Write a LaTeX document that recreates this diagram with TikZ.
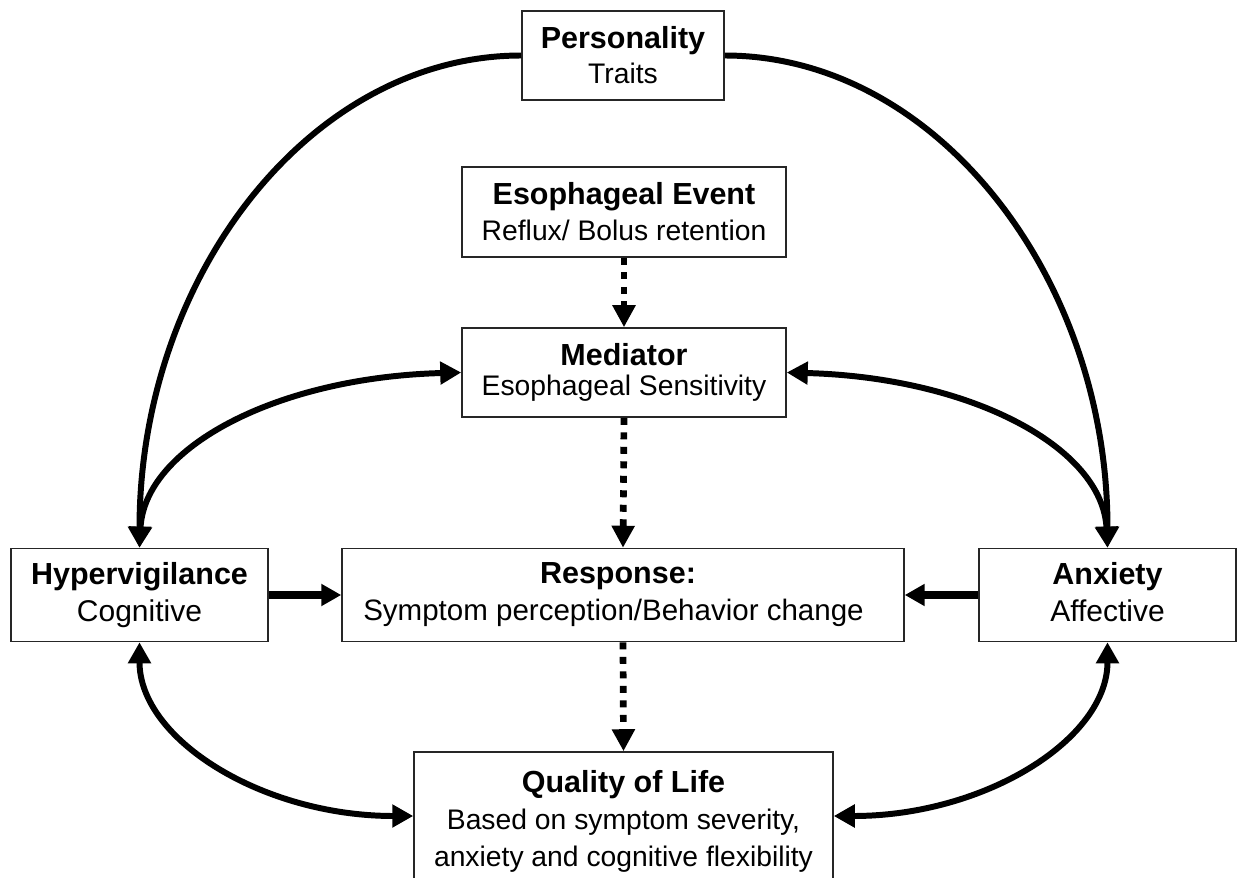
\documentclass[tikz,border=0pt]{standalone}
\usepackage{fontspec}
\setmainfont{Liberation Sans}
\usetikzlibrary{arrows.meta}
\newcommand\hb{\fontsize{17.35pt}{21pt}\selectfont\bfseries}
\newcommand\rs{\fontsize{17.07pt}{21pt}\selectfont}
\newcommand\rc{\fontsize{16.1pt}{21pt}\selectfont}
\newcommand\rr{\fontsize{16.8pt}{21pt}\selectfont}
\begin{document}
\begin{tikzpicture}[x=0.02cm,y=-0.02cm,
  box/.style={draw=black!85, line width=0.9pt, inner sep=0pt, align=center},
  conn/.style={line width=3.4pt, -{Triangle[length=0.42cm,width=0.44cm]}},
  biconn/.style={line width=3.4pt, {Triangle[length=0.42cm,width=0.44cm]}-{Triangle[length=0.42cm,width=0.44cm]}},
  straight/.style={line width=4pt, -{Triangle[length=0.4cm,width=0.42cm]}},
  dots/.style={line width=0.134cm, dash pattern=on 0.14cm off 0.15cm, -{Triangle[length=0.44cm,width=0.44cm]}}
]
\clip (0,0) rectangle (1238,878);
\fill[white] (0,0) rectangle (1238,878);

\node[box, minimum width=4.04cm, minimum height=1.78cm, font=\fontsize{17pt}{19.9pt}\selectfont] (pers) at (623,55.5) {{\hb Personality}\\{\rc Traits}};
\node[box, minimum width=6.48cm, minimum height=1.80cm, font=\fontsize{17pt}{20.5pt}\selectfont] (ev) at (624,212) {{\hb Esophageal Event}\\{\rc Reflux/ Bolus retention}};
\node[box, minimum width=6.48cm, minimum height=1.78cm, font=\fontsize{17pt}{17.5pt}\selectfont] (med) at (624,372.5) {{\hb Mediator}\\{\rc Esophageal Sensitivity}};
\node[box, minimum width=5.14cm, minimum height=1.86cm, font=\fontsize{17pt}{21pt}\selectfont] (hyp) at (139.5,595) {{\hb Hypervigilance}\\{\rs Cognitive}};
\node[box, minimum width=11.24cm, minimum height=1.86cm, font=\fontsize{17pt}{21pt}\selectfont] (resp) at (623,595) {{\hb Response:}\hspace*{0.2cm}\\{\rr Symptom perception/Behavior change}\hspace*{0.38cm}};
\node[box, minimum width=5.14cm, minimum height=1.86cm, font=\fontsize{17pt}{21pt}\selectfont] (anx) at (1107.5,595) {{\hb Anxiety}\\{\rs Affective\vphantom{g}}};
\node[box, minimum width=8.38cm, minimum height=2.76cm, font=\fontsize{17pt}{21pt}\selectfont] (qol) at (623.5,821) {{\hb Quality of Life}\\{\rc Based on symptom severity,}\\{\rc anxiety and cognitive flexibility}};

\draw[conn] (pers.west) .. controls +(-211,0) and +(0,-271) .. (hyp.north);
\draw[conn] (pers.east) .. controls +(211,0) and +(0,-271) .. (anx.north);
\draw[biconn] (hyp.north) .. controls +(5,-100) and +(-185,5) .. (med.west);
\draw[biconn] (anx.north) .. controls +(-5,-100) and +(185,5) .. (med.east);
\draw[biconn] (hyp.south) .. controls +(0,97) and +(-151,0) .. ([yshift=0.1cm]qol.west);
\draw[biconn] (anx.south) .. controls +(0,97) and +(151,0) .. ([yshift=0.1cm]qol.east);

\draw[straight] (hyp.east) -- (resp.west);
\draw[straight] (anx.west) -- (resp.east);

\draw[dots] (ev.south) -- (med.north);
\draw[dots] (med.south) -- (resp.north);
\draw[dots] (resp.south) -- (qol.north);
\end{tikzpicture}
\end{document}
